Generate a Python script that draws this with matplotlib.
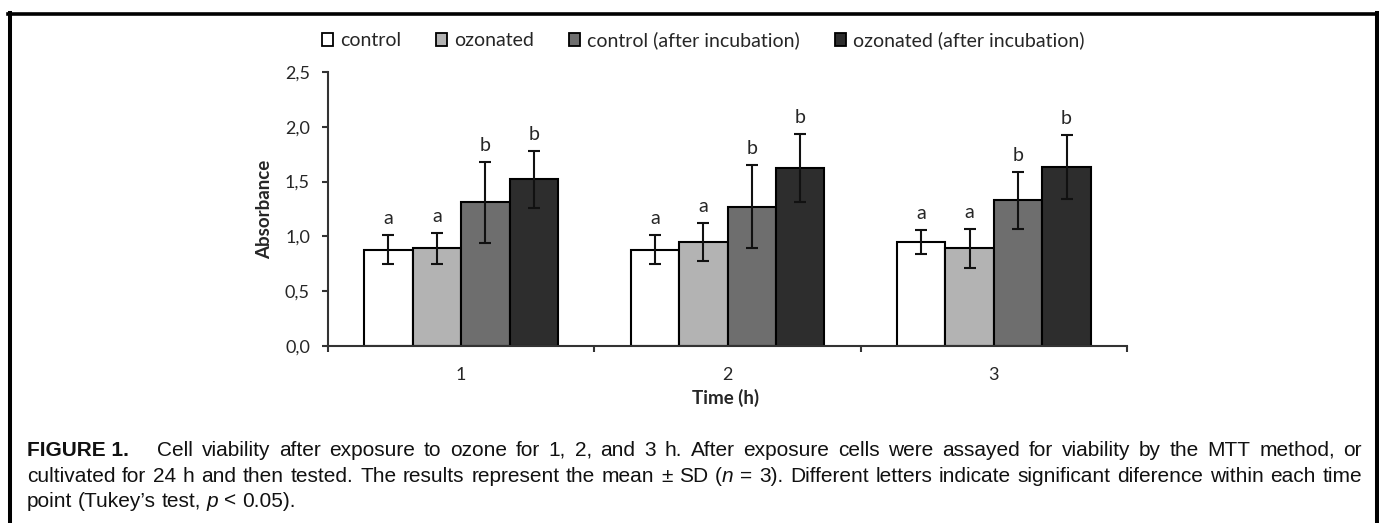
import matplotlib
matplotlib.use("Agg")
import matplotlib.pyplot as plt
from matplotlib.patches import Patch
from matplotlib.lines import Line2D
from matplotlib.ticker import FuncFormatter
import numpy as np

# data
times = ["1", "2", "3"]
series_names = ["control", "ozonated", "control (after incubation)", "ozonated (after incubation)"]
control = [0.88, 0.88, 0.95]
control_sd = [0.13, 0.13, 0.11]
ozonated = [0.89, 0.95, 0.89]
ozonated_sd = [0.14, 0.17, 0.18]
control_inc = [1.31, 1.27, 1.33]
control_inc_sd = [0.37, 0.38, 0.26]
ozonated_inc = [1.52, 1.62, 1.635]
ozonated_inc_sd = [0.26, 0.31, 0.29]
letters = ["a", "a", "b", "b"]

caption_lines = [
    "Cell viability after exposure to ozone for 1, 2, and 3 h. After exposure cells were assayed for viability by the MTT method, or",
    "cultivated for 24 h and then tested. The results represent the mean \u00b1 SD (*n* = 3). Different letters indicate significant diference within each time",
    "point (Tukey\u2019s test, *p* < 0.05).",
]

W, H = 1379, 523
means = [control, ozonated, control_inc, ozonated_inc]
sds = [control_sd, ozonated_sd, control_inc_sd, ozonated_inc_sd]
colors = ["#ffffff", "#b3b3b3", "#6e6e6e", "#2d2d2d"]
chart_font = "Lato"
txt_col = "#262626"

fig = plt.figure(figsize=(W / 100, H / 100), dpi=100)
ax = fig.add_axes([328 / W, 1 - 346 / H, 799 / W, 274 / H])

x = np.arange(1, len(times) + 1)
w = 0.182
for i in range(4):
    pos = x + (i - 1.5) * w
    ax.bar(pos, means[i], w, color=colors[i], edgecolor="black", linewidth=1.5, zorder=2)
    ax.errorbar(pos, means[i], yerr=sds[i], fmt="none", ecolor="#111111",
                elinewidth=1.5, capsize=4, capthick=1.5, zorder=3)
    for p, m, s in zip(pos, means[i], sds[i]):
        ax.annotate(letters[i], (p, m + s), xytext=(0, 8), textcoords="offset points",
                    ha="center", va="baseline", fontsize=14, family=chart_font, color=txt_col)

ax.set_xlim(0.5, 3.5)
ax.set_ylim(0, 2.5)
ax.set_yticks(np.arange(0, 2.51, 0.5))
ax.yaxis.set_major_formatter(FuncFormatter(lambda v, _: f"{v:.1f}".replace(".", ",")))
ax.set_xticks([0.5, 1.5, 2.5, 3.5])
ax.set_xticklabels([])
ax.set_xticks(x, minor=True)
ax.set_xticklabels(times, minor=True)
ax.tick_params(axis="x", which="minor", length=0, pad=15)
ax.tick_params(which="major", length=4, width=1.5, color="#333333")
ax.tick_params(axis="y", pad=9)
for lab in ax.get_yticklabels() + ax.get_xticklabels(minor=True):
    lab.set_family(chart_font)
    lab.set_fontsize(13)
    lab.set_color(txt_col)

for side in ["top", "right"]:
    ax.spines[side].set_visible(False)
for side in ["left", "bottom"]:
    ax.spines[side].set_linewidth(1.5)
    ax.spines[side].set_color("#333333")

ax.set_xlabel("Time (h)", family=chart_font, fontweight="bold", fontsize=13.5, color=txt_col, va="center")
ax.xaxis.set_label_coords(0.497, -0.19)
ax.set_ylabel("Absorbance", family=chart_font, fontweight="bold", fontsize=13.5, color=txt_col, va="center")
ax.yaxis.set_label_coords(-0.079, 0.5)

handles = [Patch(facecolor=c, edgecolor="black", linewidth=1.3) for c in colors]
leg = fig.legend(handles, series_names, loc="center", bbox_to_anchor=(703 / W, 1 - 40 / H),
                 ncol=4, frameon=False, handlelength=0.57, handleheight=0.67,
                 handletextpad=0.36, columnspacing=1.8, prop={"family": chart_font, "size": 14})
for t in leg.get_texts():
    t.set_color(txt_col)

# frame around the figure
lw = 2.6
fig.add_artist(Line2D([8 / W, 1], [1 - 14.3 / H] * 2, lw=lw, color="black", transform=fig.transFigure))
fig.add_artist(Line2D([10.3 / W] * 2, [0, 1 - 13 / H], lw=lw + 0.3, color="black", transform=fig.transFigure))
fig.add_artist(Line2D([1377 / W] * 2, [0, 1 - 13 / H], lw=lw + 0.3, color="black", transform=fig.transFigure))

# caption, justified like the journal layout
cap_size = 15
renderer = fig.canvas.get_renderer()


def make_piece(s, style):
    return fig.text(0, 0, s, fontsize=cap_size, family="Liberation Sans",
                    fontweight="bold" if style == "bold" else "normal",
                    fontstyle="italic" if style == "italic" else "normal",
                    va="baseline", ha="left", color="#111111")


def width_of(t):
    return t.get_window_extent(renderer).width


def parse_words(line):
    words = []
    for word in line.split(" "):
        parts = word.split("*")
        pieces = []
        for k, s in enumerate(parts):
            if s:
                pieces.append(make_piece(s, "italic" if k % 2 else "normal"))
        words.append(pieces)
    return words


def place_line(words, x0, x1, y_base, justify=True):
    widths = [sum(width_of(p) for p in wd) for wd in words]
    if justify and len(words) > 1:
        gap = (x1 - x0 - sum(widths)) / (len(words) - 1)
    else:
        probe = make_piece("x x", "normal")
        one = make_piece("x", "normal")
        gap = width_of(probe) - 2 * width_of(one)
        probe.remove()
        one.remove()
    xc = x0
    for wd, wdt in zip(words, widths):
        xp = xc
        for p in wd:
            p.set_position((xp / W, 1 - y_base / H))
            xp += width_of(p)
        xc += wdt + gap


left_x, right_x = 27, 1362
baselines = [456, 481.5, 507]
head = make_piece("FIGURE 1.", "bold")
head.set_position((left_x / W, 1 - baselines[0] / H))
start1 = left_x + width_of(head) + 28
place_line(parse_words(caption_lines[0]), start1, right_x, baselines[0])
place_line(parse_words(caption_lines[1]), left_x, right_x, baselines[1])
place_line(parse_words(caption_lines[2]), left_x, right_x, baselines[2], justify=False)

fig.savefig("out.png", dpi=100)
